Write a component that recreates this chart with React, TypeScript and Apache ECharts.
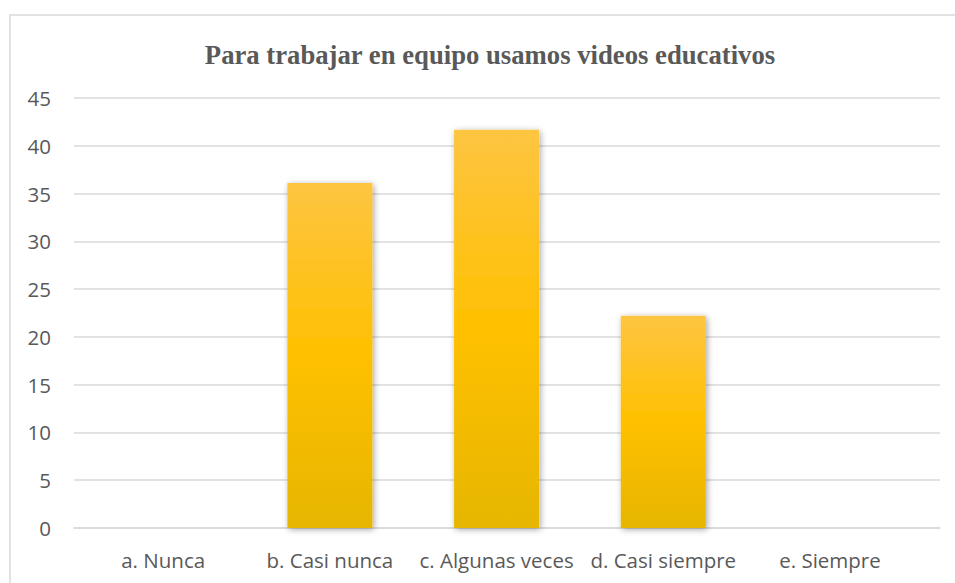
import React, { useEffect, useRef } from "react";
import * as echarts from "echarts";

const titleText = "Para trabajar en equipo usamos videos educativos";
const categories = ["a. Nunca", "b. Casi nunca", "c. Algunas veces", "d. Casi siempre", "e. Siempre"];
const values = [0, 36.11, 41.67, 22.22, 0];
const yMin = 0;
const yMax = 45;
const yStep = 5;

export default function App() {
  const ref = useRef<HTMLDivElement>(null);
  useEffect(() => {
    if (!ref.current) return;
    const chart = echarts.init(ref.current, undefined, { renderer: "svg" });
    const barData = values.map((v, i) => [i, v]);
    chart.setOption({
      animation: false,
      backgroundColor: "#ffffff",
      graphic: [
        {
          type: "rect",
          shape: { x: 10, y: 15, width: 1000, height: 700 },
          style: { fill: "none", stroke: "#D9D9D9", lineWidth: 1.5 },
          silent: true,
          z: -1,
        },
      ],
      title: {
        text: titleText,
        left: 485,
        top: 36,
        textAlign: "center",
        textStyle: {
          fontFamily: "Liberation Serif",
          fontWeight: "bold",
          fontSize: 26.7,
          color: "#595959",
        },
      },
      grid: { left: 74, right: 15, top: 98, bottom: 55, containLabel: false },
      xAxis: {
        type: "value",
        min: -0.535,
        max: 4.66,
        splitLine: { show: false },
        axisTick: { show: false },
        axisLine: { show: true, lineStyle: { color: "#D9D9D9", width: 1.5 } },
        axisLabel: {
          customValues: [0, 1, 2, 3, 4],
          formatter: (v: number) => categories[Math.round(v)] ?? "",
          fontFamily: "Open Sans",
          fontSize: 20.5,
          color: "#595959",
          margin: 21,
        },
      },
      yAxis: {
        type: "value",
        min: yMin,
        max: yMax,
        interval: yStep,
        axisLine: { show: false },
        axisTick: { show: false },
        splitLine: { lineStyle: { color: "#D9D9D9", width: 1.5 } },
        axisLabel: {
          fontFamily: "Open Sans",
          fontSize: 20.5,
          color: "#595959",
          margin: 23,
        },
      },
      series: [
        {
          type: "bar",
          data: barData,
          barWidth: 85,
          itemStyle: {
            color: new echarts.graphic.LinearGradient(0, 0, 0, 1, [
              { offset: 0, color: "#FDC542" },
              { offset: 0.5, color: "#FFC000" },
              { offset: 1, color: "#E6B600" },
            ]),
            shadowBlur: 6,
            shadowColor: "rgba(0,0,0,0.35)",
            shadowOffsetX: 1.5,
            shadowOffsetY: 1.5,
          },
        },
      ],
    });
    return () => chart.dispose();
  }, []);
  return (
    <div
      ref={ref}
      style={{ position: "fixed", left: 0, top: 0, width: 955, height: 583 }}
    />
  );
}
